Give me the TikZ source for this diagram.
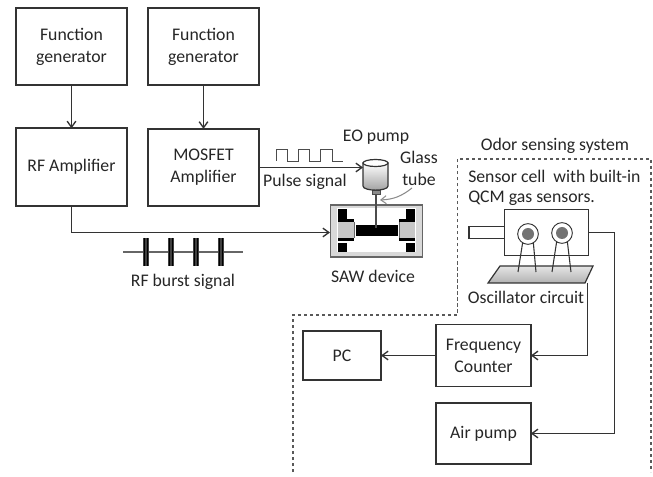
\documentclass[tikz,border=0pt]{standalone}
\usepackage{fontspec}
\setmainfont{Carlito}
\usetikzlibrary{arrows.meta}
\definecolor{textgray}{HTML}{262626}
\definecolor{linegray}{HTML}{333333}
\begin{document}
\begin{tikzpicture}[
        x=0.75pt, y=-0.75pt,
        font=\fontsize{13.3pt}{16.5pt}\selectfont,
        text=textgray,
        box/.style={draw=linegray, line width=1.4pt, align=center, inner sep=0pt, outer sep=0pt},
        genbox/.style={box, minimum width=83pt, minimum height=57.5pt},
        ampbox/.style={box, minimum width=83pt, minimum height=58pt},
        smallbox/.style={box, line width=1.2pt, minimum width=71pt, minimum height=46pt},
        label/.style={inner sep=0pt, align=center},
        thin box/.style={draw=linegray, line width=0.9pt, fill=white, inner sep=0pt, outer sep=0pt},
        conn/.style={draw=linegray, line width=1pt},
        arrow/.style={conn, -{Straight Barb[length=4.5pt,width=6.5pt]}},
        burst/.style={fill=black!75, inner sep=0pt, minimum width=5.2pt, minimum height=21pt,
            path picture={
                \draw[black, line width=1pt] ([xshift=-0.9pt]path picture bounding box.north) -- ([xshift=-0.9pt]path picture bounding box.south);
                \draw[black, line width=0.7pt] ([xshift=1pt]path picture bounding box.north) -- ([xshift=1pt]path picture bounding box.south);
            }},
        sensor/.style={circle, draw=linegray, line width=0.7pt, fill=white, inner sep=0pt, minimum size=15.5pt, outer sep=0pt},
        sensorcore/.style={circle, fill=black!55, inner sep=0pt, minimum size=9pt},
        blackpad/.style={fill=black},
        idt/.style={fill=black!22},
    ]
    \useasboundingbox (0,0) rectangle (653,477);

    % left column
    \node[genbox](gen1) at (71.5,46.5){Function\\generator};
    \node[genbox](gen2) at (203.5,46.5){Function\\generator};
    \node[ampbox](rfamp) at (71.5,167){RF Amplifier};
    \node[ampbox](mosfet) at (203.5,167.5){MOSFET\\Amplifier};
    \draw[arrow] (gen1) -- (rfamp);
    \draw[arrow] (gen2) -- (mosfet);

    % SAW device
    \node[draw=black!60, line width=1.4pt, fill=black!15, inner sep=0pt, outer sep=0pt, minimum width=69pt, minimum height=38.5pt](saw) at (376.5,231){};
    \fill[white] (337,208.5) rectangle (416,252);
    \fill[blackpad] (356,225) rectangle (398,236);
    \fill[idt] (338,222) rectangle (354,238);
    \fill[idt] (399,222) rectangle (415,238);
    \fill[blackpad] (338,209) rectangle (347,219);
    \fill[blackpad] (338,219) rectangle (354,222);
    \fill[blackpad] (338,238) rectangle (354,241);
    \fill[blackpad] (338,243) rectangle (347,252);
    \fill[blackpad] (406,209) rectangle (415,219);
    \fill[blackpad] (399,219) rectangle (415,222);
    \fill[blackpad] (399,238) rectangle (415,241);
    \fill[blackpad] (406,243) rectangle (415,252);
    \draw[black!60, line width=0.5pt] (354,222) -- (354,238) (399,222) -- (399,238);
    \node[label](sawlabel) at (373,276){SAW device};

    % EO pump
    \draw[black!70, line width=1.4pt] (376,194) -- (376,228);
    \fill[black!45, draw=black!70, line width=0.4pt] (372,190) rectangle (380,194.5);
    \draw[draw=linegray, line width=0.9pt, top color=white, bottom color=black!38]
        (363,163) -- (363,186) .. controls (363,191.5) and (388,191.5) .. (388,186) -- (388,163) -- cycle;
    \draw[draw=linegray, line width=0.9pt, fill=white] (375.5,163) ellipse[x radius=12.5, y radius=3.5];
    \coordinate (pumpin) at (363,167.5);
    \draw[arrow] (mosfet) -- (pumpin);
    \draw[black!70, line width=0.7pt] (276,161) -- (276,149) -- (287,149) -- (287,161) -- (298,161) -- (298,149) -- (309,149) -- (309,161) -- (320,161) -- (320,149) -- (332,149) -- (332,161) -- (343,161);
    \node[label](pulse) at (305,182){Pulse signal};
    \node[label](eopump) at (376,137){EO pump};
    \node[label](glass) at (419,168.5){Glass\\tube};
    \coordinate (glassfrom) at (412,188);
    \coordinate (glassto) at (380,200);
    \draw[black!45, line width=0.8pt, -{Straight Barb[length=4pt,width=6pt]}] (glassfrom) to[bend left=18] (glassto);

    % RF line
    \coordinate (sawin) at (330,232.5);
    \draw[arrow] (rfamp.south) |- (sawin);
    \coordinate (burststart) at (123,252);
    \coordinate (burstend) at (243,252);
    \draw[black!60, line width=0.8pt] (burststart) -- (burstend);
    \node[burst](burst1) at (146,252){};
    \node[burst](burst2) at (171,252){};
    \node[burst](burst3) at (196,252){};
    \node[burst](burst4) at (221,252){};
    \node[label](burstlabel) at (183,282){RF burst signal};

    % odor sensing system
    \node[label](odor) at (555,146){Odor sensing system};
    \draw[black!65, line width=0.8pt, dash pattern=on 2.5pt off 2pt] (293,472) -- (293,315) -- (457.5,315) -- (457.5,159) -- (651,159) -- (651,472);
    \node[label, anchor=west](celltext) at (468,176){Sensor cell~ with built-in};
    \node[label, anchor=west](qcmtext) at (468,198){QCM gas sensors.};

    % sensor cell
    \node[thin box, minimum width=27pt, minimum height=8.5pt](inlet) at (487,232.5){};
    \node[thin box, minimum width=62.5pt, minimum height=35pt](cell) at (546.5,232.5){};
    \draw[draw=linegray, line width=0.9pt, top color=black!10, bottom color=black!30] (500,266) -- (593,266) -- (585,283) -- (488,283) -- cycle;
    \coordinate (oscout) at (587.5,283);
    \node[sensor](sensor1) at (528,234){};
    \node[sensor](sensor2) at (562,233){};
    \node[sensorcore](core1) at (sensor1){};
    \node[sensorcore](core2) at (sensor2){};
    \draw[linegray, line width=0.8pt] (sensor1.south west) ++(2,1) -- (518,272);
    \draw[linegray, line width=0.8pt] (sensor1.south east) ++(-2,1) -- (536,272);
    \draw[linegray, line width=0.8pt] (sensor2.south west) ++(2,1) -- (552,272);
    \draw[linegray, line width=0.8pt] (sensor2.south east) ++(-2,1) -- (571,272);
    \node[label](osclabel) at (526,297){Oscillator circuit};

    % counter and pumps
    \node[smallbox, minimum width=71pt, minimum height=46.5pt](freq) at (483.5,355.5){Frequency\\Counter};
    \node[smallbox, minimum width=71pt, minimum height=46pt](airpump) at (483.5,433.5){Air pump};
    \node[smallbox, minimum width=58.5pt, minimum height=36.5pt](pc) at (342,355.5){PC};
    \coordinate (airturn) at (614.5,433.5);
    \draw[arrow] (freq) -- (pc);
    \draw[arrow] (oscout) |- (freq);
    \draw[conn] (cell.east) -| (airturn);
    \draw[arrow] (airturn) -- (airpump);
    \end{tikzpicture}
\end{document}
